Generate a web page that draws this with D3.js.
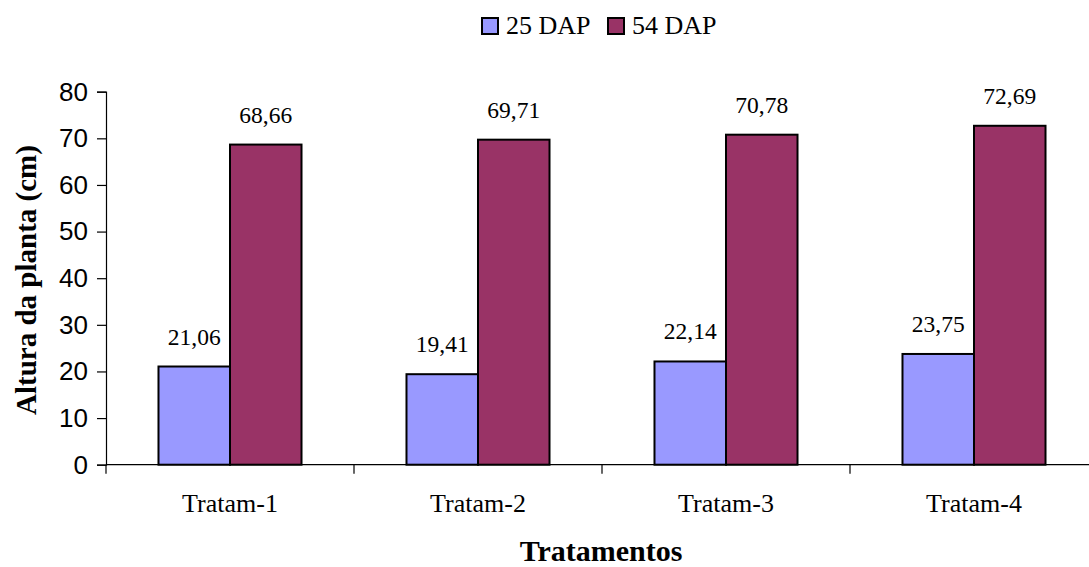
<!DOCTYPE html>
<html>
<head>
<meta charset="utf-8">
<script src="https://cdn.jsdelivr.net/npm/d3@7"></script>
<style>
  html, body { margin: 0; padding: 0; background: #fff; }
  svg { display: block; }
</style>
</head>
<body>
<svg id="chart" width="1089" height="567"></svg>
<script>
// Plant height per treatment at two sampling dates
const categories = ["Tratam-1", "Tratam-2", "Tratam-3", "Tratam-4"];
const seriesNames = ["25 DAP", "54 DAP"];
const values25 = [21.06, 19.41, 22.14, 23.75];
const values54 = [68.66, 69.71, 70.78, 72.69];
const yTicks = [0, 10, 20, 30, 40, 50, 60, 70, 80];
const colors = ["#9999FF", "#993366"];

const svg = d3.select("#chart");
const plot = { left: 106, right: 1098, top: 91.7, bottom: 464.7 };

const x0 = d3.scaleBand().domain(categories).range([plot.left, plot.right]).padding(0);
const x1 = d3.scaleBand().domain(seriesNames).range([0, x0.bandwidth()])
  .paddingInner(0).paddingOuter(0.734);
const y = d3.scaleLinear().domain([0, 80]).range([plot.bottom, plot.top]);

const rows = categories.map((c, i) => ({
  cat: c,
  vals: [
    { s: seriesNames[0], v: values25[i], color: colors[0] },
    { s: seriesNames[1], v: values54[i], color: colors[1] }
  ]
}));

// Bars
const groups = svg.append("g").selectAll("g").data(rows).join("g")
  .attr("transform", d => `translate(${x0(d.cat)},0)`);

groups.selectAll("rect").data(d => d.vals).join("rect")
  .attr("x", d => x1(d.s))
  .attr("y", d => y(d.v))
  .attr("width", x1.bandwidth())
  .attr("height", d => y(0) - y(d.v))
  .attr("fill", d => d.color)
  .attr("stroke", "#000")
  .attr("stroke-width", 2);

// Value labels
groups.selectAll("text").data(d => d.vals).join("text")
  .attr("x", d => x1(d.s) + x1.bandwidth() / 2)
  .attr("y", d => y(d.v) - 22)
  .attr("text-anchor", "middle")
  .attr("font-family", "'Liberation Serif', 'Times New Roman', serif")
  .attr("font-size", 23.5)
  .attr("fill", "#000")
  .text(d => d.v.toFixed(2).replace(".", ","));

// Y axis
const yAxis = svg.append("g")
  .attr("transform", `translate(${plot.left},0)`)
  .call(d3.axisLeft(y).tickValues(yTicks).tickSize(9).tickPadding(9).tickFormat(d3.format("d")));
yAxis.select(".domain").attr("stroke", "#000").attr("stroke-width", 1.2);
yAxis.selectAll(".tick line").attr("stroke", "#000").attr("stroke-width", 1.2);
yAxis.selectAll(".tick text")
  .attr("font-family", "'Liberation Sans', Arial, sans-serif")
  .attr("font-size", 26)
  .attr("fill", "#000");

// X axis with ticks at category boundaries
const xAxis = svg.append("g")
  .attr("transform", `translate(0,${plot.bottom})`);
xAxis.append("line")
  .attr("x1", plot.left).attr("x2", plot.right)
  .attr("y1", 0).attr("y2", 0)
  .attr("stroke", "#000").attr("stroke-width", 1.2);
const boundaries = categories.map(c => x0(c)).concat([x0(categories[categories.length - 1]) + x0.bandwidth()]);
xAxis.selectAll("line.tk").data(boundaries).join("line")
  .attr("class", "tk")
  .attr("x1", d => d).attr("x2", d => d)
  .attr("y1", 0).attr("y2", 9)
  .attr("stroke", "#000").attr("stroke-width", 1.2);
xAxis.selectAll("text").data(categories).join("text")
  .attr("x", d => x0(d) + x0.bandwidth() / 2)
  .attr("y", 47)
  .attr("text-anchor", "middle")
  .attr("font-family", "'Liberation Serif', 'Times New Roman', serif")
  .attr("font-size", 26)
  .attr("fill", "#000")
  .text(d => d);

// Axis titles
svg.append("text")
  .attr("x", 601).attr("y", 561)
  .attr("text-anchor", "middle")
  .attr("font-family", "'Liberation Serif', 'Times New Roman', serif")
  .attr("font-size", 30)
  .attr("font-weight", "bold")
  .text("Tratamentos");

svg.append("text")
  .attr("transform", "translate(36,280) rotate(-90)")
  .attr("text-anchor", "middle")
  .attr("font-family", "'Liberation Serif', 'Times New Roman', serif")
  .attr("font-size", 29)
  .attr("font-weight", "bold")
  .text("Altura da planta (cm)");

// Legend
const legendItems = [
  { name: seriesNames[0], color: colors[0], x: 482 },
  { name: seriesNames[1], color: colors[1], x: 608 }
];
const legend = svg.append("g");
const li = legend.selectAll("g").data(legendItems).join("g")
  .attr("transform", d => `translate(${d.x},18)`);
li.append("rect")
  .attr("x", 0).attr("y", 0)
  .attr("width", 16).attr("height", 16)
  .attr("fill", d => d.color)
  .attr("stroke", "#000").attr("stroke-width", 2);
li.append("text")
  .attr("x", 24).attr("y", 16)
  .attr("font-family", "'Liberation Serif', 'Times New Roman', serif")
  .attr("font-size", 26)
  .attr("fill", "#000")
  .text(d => d.name);
</script>
</body>
</html>
